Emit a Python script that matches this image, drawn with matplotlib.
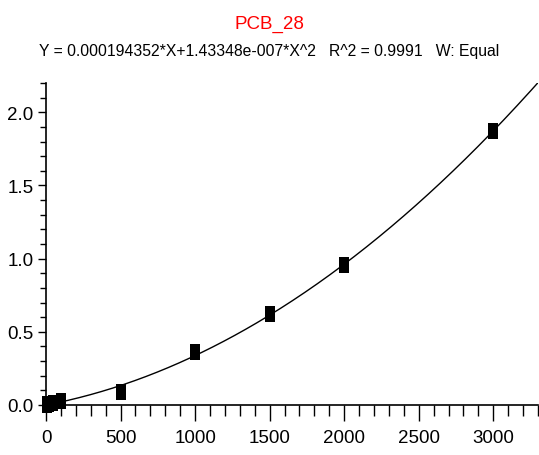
import numpy as np
import matplotlib
matplotlib.use("Agg")
import matplotlib.pyplot as plt
from matplotlib.ticker import MultipleLocator

# calibration points
conc = [5, 10, 20, 50, 100, 500, 1000, 1500, 2000, 3000]
response = [0.002, 0.004, 0.008, 0.015, 0.03, 0.09, 0.363, 0.62, 0.956, 1.87]

# fit coefficients as printed in the header
coef_x = 0.000194352
coef_x2 = 1.43348e-007

title = "PCB_28"
subtitle = "Y = 0.000194352*X+1.43348e-007*X^2   R^2 = 0.9991   W: Equal"

plt.rcParams['font.family'] = ['Liberation Sans Narrow', 'Liberation Sans', 'DejaVu Sans']

fig = plt.figure(figsize=(5.39, 4.56), dpi=100)
ax = fig.add_axes([46 / 539, 50 / 456, 492 / 539, 322 / 456])

# fitted curve
xf = np.linspace(0, 3300, 400)
ax.plot(xf, coef_x * xf + coef_x2 * xf ** 2, color='black', lw=1.0)

# rectangular markers (taller than wide)
rect = [(-1, -1.5), (1, -1.5), (1, 1.5), (-1, 1.5), (-1, -1.5)]
ax.plot(conc, response, linestyle='none', marker=rect, markersize=11.5,
        color='black', markeredgewidth=0, clip_on=False)

ax.set_xlim(0, 3300)
ax.set_ylim(0, 2.2)
ax.xaxis.set_major_locator(MultipleLocator(500))
ax.xaxis.set_minor_locator(MultipleLocator(100))
ax.yaxis.set_major_locator(MultipleLocator(0.5))
ax.yaxis.set_minor_locator(MultipleLocator(0.1))
ax.yaxis.set_major_formatter(matplotlib.ticker.FormatStrFormatter('%.1f'))

for s in ['top', 'right']:
    ax.spines[s].set_visible(False)
for s in ['left', 'bottom']:
    ax.spines[s].set_linewidth(1.2)

ax.tick_params(axis='x', which='major', direction='out', length=11.5, width=1, labelsize=13.5, pad=6)
ax.tick_params(axis='x', which='minor', direction='out', length=7.7, width=1)
ax.tick_params(axis='y', which='major', direction='out', length=6, width=1, labelsize=13.5, pad=3)
ax.tick_params(axis='y', which='minor', direction='out', length=4.3, width=1)

fig.text(0.5, 1 - 29 / 456, title, color='red', fontsize=13.5, ha='center', va='baseline')
fig.text(0.5, 1 - 56 / 456, subtitle, color='black', fontsize=11.3, ha='center', va='baseline')

fig.savefig("out.png", dpi=100)
